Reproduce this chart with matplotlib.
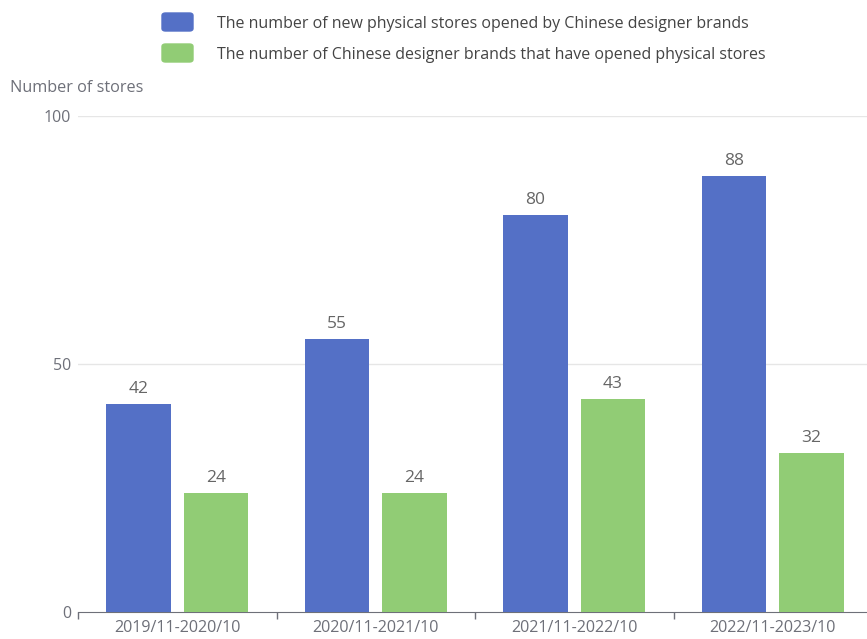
"""Chinese designer brands: physical store openings by year."""

import matplotlib

matplotlib.use("Agg")

import matplotlib.pyplot as plt
import numpy as np
from matplotlib.patches import FancyBboxPatch

periods = ["2019/11-2020/10", "2020/11-2021/10", "2021/11-2022/10", "2022/11-2023/10"]
new_stores = [42, 55, 80, 88]
brands_with_stores = [24, 24, 43, 32]
series_names = [
    "The number of new physical stores opened by Chinese designer brands",
    "The number of Chinese designer brands that have opened physical stores",
]
y_ticks = [0, 50, 100]

BLUE = "#5470c6"
GREEN = "#91cc75"
LABEL = "#6e7079"

plt.rcParams["font.family"] = ["Open Sans", "DejaVu Sans"]

W, H = 867, 639
fig = plt.figure(figsize=(W / 100, H / 100), dpi=100)

# grid spans x 78..872 px (the right edge is cut off), y 116..612 px
ax = fig.add_axes([78 / W, (H - 612) / H, (872 - 78) / W, (612 - 116) / H])

x = np.arange(len(periods))
width = 0.325
offset = 0.195
b1 = ax.bar(x - offset, new_stores, width, color=BLUE, zorder=3)
b2 = ax.bar(x + offset, brands_with_stores, width, color=GREEN, zorder=3)
ax.bar_label(b1, padding=5, fontsize=12.5, color="#666666")
ax.bar_label(b2, padding=5, fontsize=12.5, color="#666666")

ax.set_xlim(-0.5, len(periods) - 0.5)
ax.set_ylim(0, 100)
ax.set_yticks(y_ticks)
ax.set_yticklabels([str(v) for v in y_ticks])
ax.tick_params(axis="y", length=0, pad=5, labelsize=11.5, labelcolor=LABEL)
ax.set_xticks(x)
ax.set_xticklabels(periods)
ax.tick_params(axis="x", length=0, pad=6, labelsize=11.6, labelcolor=LABEL)
ax.set_xticks(np.arange(-0.5, len(periods) + 0.5, 1), minor=True)
ax.tick_params(axis="x", which="minor", length=5, color="#6e7079", width=1)

for v in y_ticks[1:]:
    ax.axhline(v, color="#e6e6e6", lw=1, zorder=1)

for side in ["top", "right", "left"]:
    ax.spines[side].set_visible(False)
ax.spines["bottom"].set_color("#6e7079")

fig.text(10 / W, 1 - 88 / H, "Number of stores", fontsize=11.7, color=LABEL, va="center", ha="left")

# legend
for i, (name, color) in enumerate(zip(series_names, [BLUE, GREEN])):
    yc = 22 + 31 * i
    fig.patches.append(
        FancyBboxPatch(
            (162 / W, 1 - (yc + 9) / H), 31 / W, 18 / H,
            boxstyle="round,pad=0,rounding_size=0.004",
            transform=fig.transFigure, color=color, figure=fig,
        )
    )
    fig.text(217 / W, 1 - (yc + 2) / H, name, fontsize=11.5, color="#444444", va="center", ha="left")

fig.savefig("out.png", dpi=100)
